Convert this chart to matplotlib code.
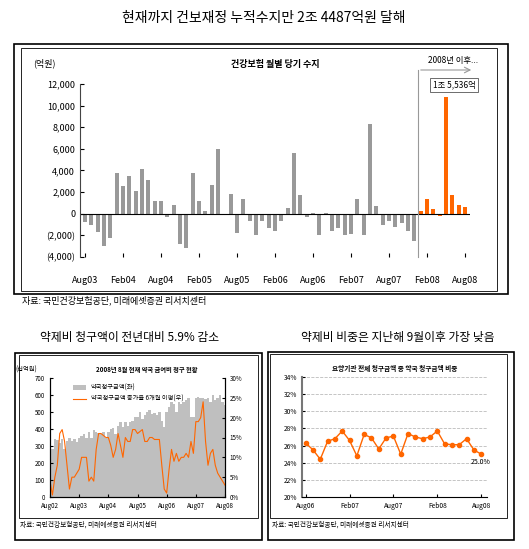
import matplotlib
matplotlib.use("Agg")
import matplotlib.pyplot as plt
from matplotlib.patches import Rectangle
import numpy as np

plt.rcParams['font.family'] = ['Noto Sans CJK KR', 'DejaVu Sans']

# ---- top chart data (억원), Aug03..Aug08
balance = [-800, -1000, -1700, -3000, -2200,
           3800, 2600, 3500, 2100, 4100, 3100, 1200, 1200, -300, 800, -2800, -3200,
           3800, 1200, 300, 2700, 6000, 0, 1800, -1800, 1400, -700, -2000, -700,
           -1300, -1600, -700, 500, 5600, 1700, -300, 100, -2000, 100, -1600, -1300,
           -2000, -1900, 1400, -2000, 8300, 700, -1000, -700, -1200, -900, -1600, -2500,
           300, 1400, 400, -200, 10800, 1700, 800, 600]
top_ticks = ["Aug03", "Feb04", "Aug04", "Feb05", "Aug05", "Feb06", "Aug06", "Feb07", "Aug07", "Feb08", "Aug08"]

# ---- bottom-left data, Aug02..Aug08
claims = [300, 285, 340, 335, 320,
          340, 285, 330, 345, 330, 340, 325, 350, 360, 370, 345, 380,
          350, 395, 385, 375, 370, 380, 345, 385, 400, 405, 370, 420,
          440, 410, 440, 420, 440, 450, 470, 470, 500, 460, 480, 500,
          510, 490, 495, 480, 500, 450, 410, 500, 530, 560, 550, 500,
          560, 550, 560, 570, 580, 470, 470, 580, 590, 580, 580, 575,
          580, 560, 600, 570, 580, 600, 560, 540]
growth = [4, 0.5, 5, 8, 16,
          17, 14, 8, 2, 5, 5, 6, 7, 10, 10, 10, 4,
          5, 4, 12, 16, 16, 15.5, 15, 15, 13, 10, 12, 16,
          13, 10, 15, 14, 14, 17, 17, 16, 16.5, 17, 14, 14,
          15, 15, 14.5, 14.5, 14.5, 8, 2, 1, 7, 12, 9, 11,
          9, 10, 10, 11, 10, 14, 11, 19, 19, 20, 24, 14,
          8, 11, 12, 8, 6, 5, 4, 3]
bl_ticks = ["Aug02", "Aug03", "Aug04", "Aug05", "Aug06", "Aug07", "Aug08"]

# ---- bottom-right data, Aug06..Aug08 (%)
share = [26.3, 25.5, 24.4, 26.5, 26.8, 27.7, 26.6, 24.8, 27.3, 26.9, 25.6, 26.9, 27.1,
         25.0, 27.4, 27.0, 26.8, 27.0, 27.7, 26.2, 26.1, 26.1, 26.8, 25.5, 25.0]
br_ticks = ["Aug06", "Feb07", "Aug07", "Feb08", "Aug08"]

W, H = 529, 549
fig = plt.figure(figsize=(W/100, H/100), dpi=100)
def ax_px(x0, y0, x1, y1):
    return fig.add_axes([x0/W, 1-y1/H, (x1-x0)/W, (y1-y0)/H])
def box(x0, y0, x1, y1, lw=1.2):
    fig.patches.append(Rectangle((x0/W, 1-y1/H), (x1-x0)/W, (y1-y0)/H, transform=fig.transFigure,
                                 fill=False, ec='black', lw=lw))
def txt(x, y, s, **kw):
    fig.text(x/W, 1-y/H, s, **kw)

grey = '#999999'; orange = '#ff6600'

# ---------------- top
txt(264, 18, "현재까지 건보재정 누적수지만 2조 4487억원 달해", ha='center', va='center', fontsize=10)
box(14, 44, 508, 294)
box(21, 48, 497, 291, lw=0.6)
ax = ax_px(80, 84, 470, 257)
x = np.arange(len(balance))
cols = [orange if i >= 53 else grey for i in x]
ax.bar(x, balance, width=0.6, color=cols)
ax.set_ylim(-4000, 12000)
ax.set_xlim(-0.8, len(balance) - 0.2)
ax.set_yticks(range(-4000, 12001, 2000))
ax.set_yticklabels([f"({-v:,})" if v < 0 else f"{v:,}" for v in range(-4000, 12001, 2000)], fontsize=6.5)
ax.set_xticks(np.arange(0, 61, 6))
ax.set_xticklabels(top_ticks, fontsize=6.5)
for s in ['top', 'right', 'bottom']:
    ax.spines[s].set_visible(False)
ax.spines['left'].set_color('#444444')
ax.axhline(0, color='black', lw=0.8)
ax.tick_params(axis='x', length=3, direction='in', pad=14)
ax.tick_params(axis='y', length=3, direction='in')
ax.text(-0.12, 1.10, "(억원)", transform=ax.transAxes, fontsize=6.5, ha='left')
ax.text(0.5, 1.10, "건강보험 월별 당기 수지", transform=ax.transAxes, fontsize=6.5, ha='center', fontweight='bold')
txt(453, 60, "2008년 이후...", fontsize=6, ha='center', va='center')
fig.add_artist(plt.Line2D([418/W, 418/W], [1-257/H, 1-70/H], color=grey, lw=0.8))
ax.annotate("", xy=(474/W, 1-70/H), xytext=(418/W, 1-70/H), xycoords='figure fraction',
            arrowprops=dict(arrowstyle='->', color=grey, lw=0.8))
txt(454, 85, "1조 5,536억", fontsize=6, ha='center', va='center',
    bbox=dict(boxstyle='square,pad=0.3', fc='white', ec='#555555', lw=0.6))
txt(22, 300, "자료: 국민건강보험공단, 미래에셋증권 리서치센터", fontsize=6.5, va='center')

# ---------------- bottom titles
txt(130, 337, "약제비 청구액이 전년대비 5.9% 감소", fontsize=8.5, ha='center', va='center')
txt(398, 337, "약제비 비중은 지난해 9월이후 가장 낮음", fontsize=8.5, ha='center', va='center')

# ---------------- bottom left
box(15, 353, 262, 540)
box(19, 355, 258, 518, lw=0.6)
ax1 = ax_px(50, 378, 225, 497)
xb = np.arange(len(claims))
ax1.bar(xb, claims, width=1.0, color='#bfbfbf', label="약국청구금액(좌)")
ax1.set_ylim(0, 700); ax1.set_xlim(0, len(claims) - 1)
ax1.set_yticks(range(0, 701, 100))
ax1.set_xticks(np.arange(0, 73, 12)); ax1.set_xticklabels(bl_ticks)
ax1.tick_params(labelsize=4.5, length=2, direction='in')
ax2 = ax1.twinx()
ax2.plot(xb, growth, color=orange, lw=0.8, label="약국청구금액 증가율 6개월 이평(우)")
ax2.set_ylim(0, 30)
ax2.set_yticks(range(0, 31, 5)); ax2.set_yticklabels([f"{v}%" for v in range(0, 31, 5)])
ax2.tick_params(labelsize=4.5, length=2, direction='in')
for a in (ax1, ax2):
    a.spines['top'].set_visible(False)
h1, l1 = ax1.get_legend_handles_labels(); h2, l2 = ax2.get_legend_handles_labels()
ax2.legend(h1 + h2, l1 + l2, loc='upper left', fontsize=4.5, frameon=False, bbox_to_anchor=(0.1, 1.0))
ax1.text(-0.2, 1.05, "(십억원)", transform=ax1.transAxes, fontsize=4.5)
ax1.text(0.55, 1.05, "2008년 8월 현재 약국 급여비 청구 현황", transform=ax1.transAxes, fontsize=4.5,
         ha='center', fontweight='bold')
txt(20, 525, "자료: 국민건강보험공단, 미래에셋증권 리서치센터", fontsize=4.8, va='center')

# ---------------- bottom right
box(268, 352, 514, 540)
box(270, 354, 507, 518, lw=0.6)
ax3 = ax_px(302, 377, 487, 497)
xs = np.arange(len(share))
ax3.plot(xs, share, color=orange, lw=1.0, marker='o', ms=3)
ax3.set_ylim(20, 34); ax3.set_xlim(-0.5, len(share) - 0.2)
ax3.set_yticks(range(20, 35, 2)); ax3.set_yticklabels([f"{v}%" for v in range(20, 35, 2)])
ax3.set_xticks(np.arange(0, 25, 6)); ax3.set_xticklabels(br_ticks)
ax3.yaxis.grid(True, ls='--', color='#bbbbbb', lw=0.6)
ax3.tick_params(labelsize=4.8, length=2, direction='in')
for s in ['top', 'right']:
    ax3.spines[s].set_visible(False)
ax3.spines['left'].set_color('#777777'); ax3.spines['left'].set_linewidth(1.5)
ax3.text(len(share) - 1, share[-1] - 0.9, f"{share[-1]:.1f}%", fontsize=5, ha='center', va='center')
ax3.text(0.5, 1.05, "요양기관 전체 청구금액 중 약국 청구금액 비중", transform=ax3.transAxes,
         fontsize=4.8, ha='center', fontweight='bold')
txt(272, 525, "자료: 국민건강보험공단, 미래에셋증권 리서치센터", fontsize=4.8, va='center')

fig.savefig("out.png", dpi=100)
